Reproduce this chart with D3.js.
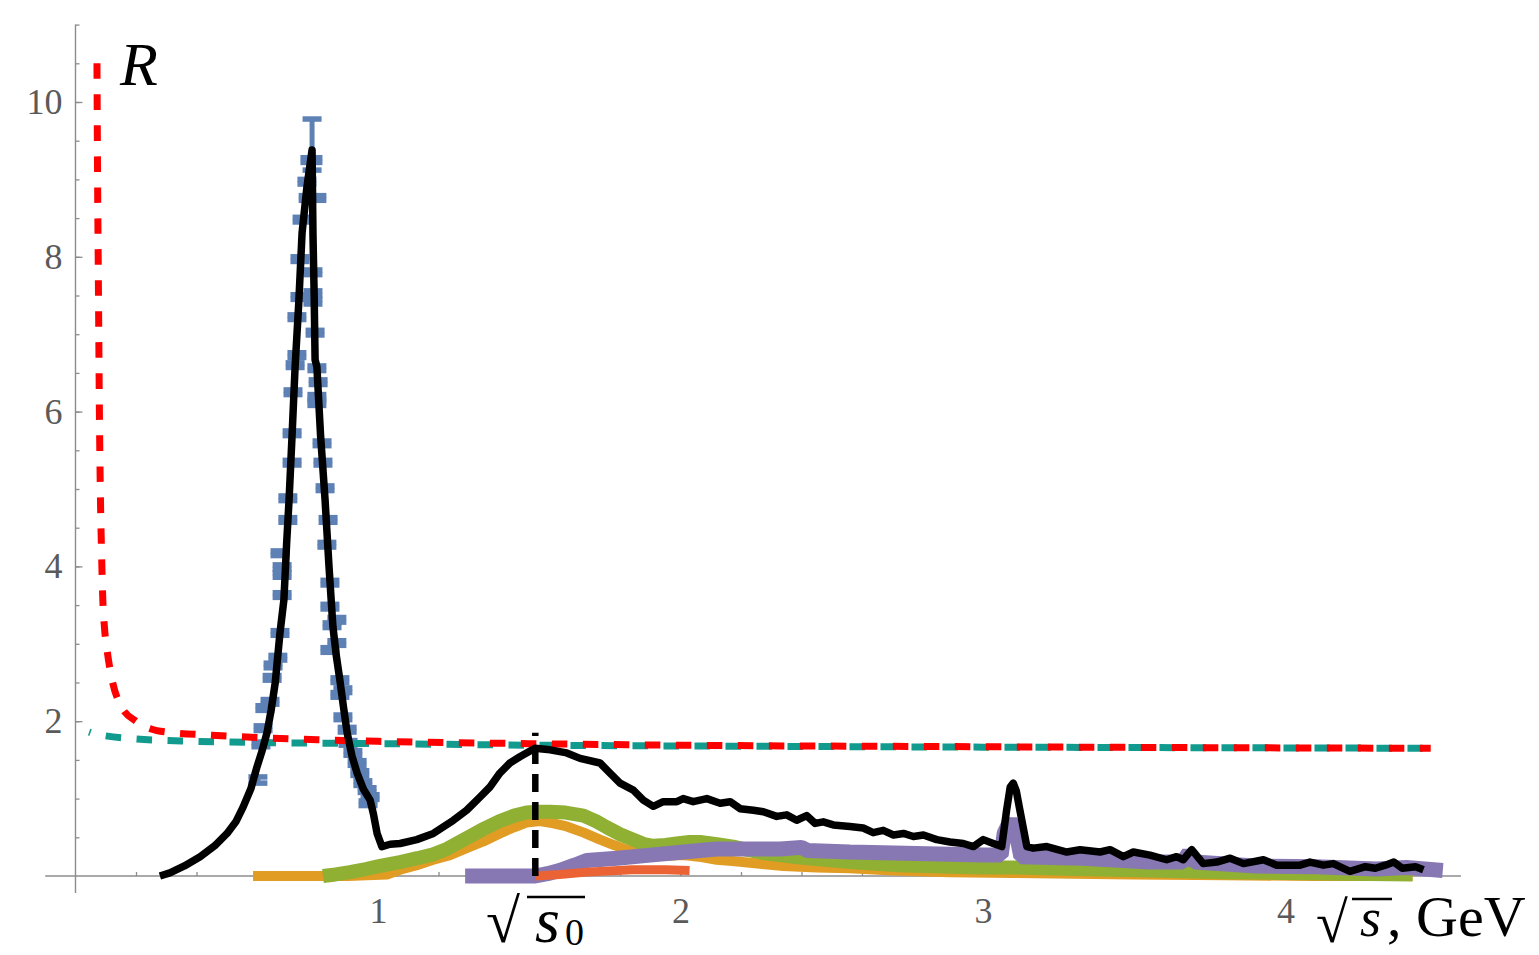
<!DOCTYPE html>
<html>
<head>
<meta charset="utf-8">
<script src="https://cdn.jsdelivr.net/npm/d3@7"></script>
<style>
  body { margin: 0; background: #fff; }
  svg { display: block; }
  .serif { font-family: "Liberation Serif", "DejaVu Serif", serif; }
</style>
</head>
<body>
<svg id="chart" width="1539" height="955"></svg>
<script>
// R ratio vs sqrt(s): data
const xMajor = [1, 2, 3, 4];
const yMajor = [2, 4, 6, 8, 10];
const s0 = 1.52;

// dashed model curves
const redCurve = [[0.071, 10.5], [0.073, 9], [0.075, 8], [0.077, 7], [0.079, 6], [0.082, 5], [0.086, 4.2], [0.09, 3.6], [0.096, 3.2], [0.105, 2.9], [0.12, 2.55], [0.15, 2.2], [0.2, 2.0], [0.25, 1.9], [0.3, 1.86], [0.45, 1.82], [0.6, 1.79], [0.8, 1.76], [1.0, 1.74], [1.5, 1.71], [2.0, 1.69], [3.0, 1.67], [4.0, 1.655], [4.48, 1.65]];
const tealCurve = [[0.045, 1.86], [0.07, 1.83], [0.1, 1.81], [0.2, 1.77], [0.4, 1.74], [0.7, 1.72], [1.0, 1.71], [1.5, 1.69], [2.0, 1.68], [3.0, 1.665], [4.0, 1.655], [4.48, 1.65]];

// total (black)
const blackCurve = [[0.279, 0], [0.312, 0.04], [0.36, 0.13], [0.412, 0.25], [0.46, 0.39], [0.501, 0.55], [0.53, 0.7], [0.554, 0.89], [0.58, 1.13], [0.6, 1.41], [0.617, 1.62], [0.633, 1.85], [0.647, 2.15], [0.66, 2.49], [0.676, 3.14], [0.689, 3.57], [0.698, 4.3], [0.706, 4.86], [0.716, 5.7], [0.726, 6.58], [0.738, 7.4], [0.749, 8.31], [0.765, 8.9], [0.782, 9.38], [0.785, 8.3], [0.789, 7.5], [0.792, 6.67], [0.798, 6.58], [0.81, 5.7], [0.825, 4.86], [0.838, 4.0], [0.851, 3.22], [0.862, 2.85], [0.874, 2.53], [0.886, 2.18], [0.898, 1.85], [0.914, 1.55], [0.931, 1.33], [0.952, 1.12], [0.974, 0.98], [0.985, 0.8], [0.997, 0.55], [1.013, 0.38], [1.04, 0.41], [1.073, 0.42], [1.128, 0.47], [1.183, 0.55], [1.249, 0.72], [1.293, 0.85], [1.337, 1.02], [1.37, 1.15], [1.403, 1.33], [1.436, 1.46], [1.469, 1.54], [1.519, 1.65], [1.569, 1.63], [1.624, 1.59], [1.668, 1.52], [1.734, 1.46], [1.767, 1.33], [1.8, 1.2], [1.844, 1.11], [1.877, 0.98], [1.91, 0.9], [1.943, 0.96], [1.988, 0.96], [2.009, 1.0], [2.042, 0.96], [2.087, 1.0], [2.131, 0.94], [2.164, 0.96], [2.197, 0.87], [2.241, 0.85], [2.274, 0.83], [2.318, 0.77], [2.351, 0.79], [2.384, 0.72], [2.417, 0.78], [2.445, 0.68], [2.472, 0.7], [2.505, 0.66], [2.56, 0.64], [2.604, 0.62], [2.637, 0.56], [2.67, 0.59], [2.704, 0.53], [2.737, 0.55], [2.77, 0.51], [2.803, 0.53], [2.847, 0.47], [2.891, 0.44], [2.935, 0.42], [2.968, 0.38], [3.001, 0.47], [3.034, 0.42], [3.062, 0.38], [3.078, 0.85], [3.09, 1.15], [3.1, 1.2], [3.11, 1.1], [3.122, 0.85], [3.145, 0.38], [3.166, 0.36], [3.211, 0.38], [3.277, 0.31], [3.321, 0.34], [3.387, 0.31], [3.42, 0.34], [3.464, 0.25], [3.497, 0.31], [3.552, 0.27], [3.607, 0.21], [3.64, 0.25], [3.662, 0.21], [3.69, 0.34], [3.728, 0.16], [3.773, 0.18], [3.817, 0.23], [3.861, 0.16], [3.927, 0.21], [3.971, 0.14], [4.048, 0.14], [4.081, 0.18], [4.125, 0.14], [4.158, 0.16], [4.213, 0.06], [4.264, 0.12], [4.297, 0.1], [4.33, 0.14], [4.358, 0.18], [4.386, 0.1], [4.43, 0.12], [4.456, 0.08]];

// exclusive channels (thick bands)
const orangeBand = [[0.587, 0], [0.75, 0], [0.9, 0], [1.03, 0.02], [1.073, 0.08], [1.128, 0.14], [1.183, 0.21], [1.238, 0.27], [1.293, 0.36], [1.35, 0.45], [1.403, 0.55], [1.45, 0.63], [1.491, 0.69], [1.535, 0.71], [1.58, 0.68], [1.624, 0.64], [1.68, 0.56], [1.734, 0.47], [1.78, 0.4], [1.823, 0.34], [1.87, 0.29], [1.91, 0.27], [1.96, 0.26], [2.009, 0.27], [2.06, 0.25], [2.12, 0.21], [2.18, 0.19], [2.23, 0.17], [2.34, 0.13], [2.45, 0.11], [2.56, 0.1], [2.7, 0.07], [2.89, 0.05], [3.1, 0.04], [3.3, 0.03], [3.5, 0.02], [3.8, 0.01], [4.1, 0.0], [4.42, 0.0]];
const greenBand = [[0.818, 0], [0.86, 0.02], [0.907, 0.05], [0.96, 0.09], [1.007, 0.13], [1.073, 0.18], [1.13, 0.23], [1.183, 0.28], [1.228, 0.35], [1.293, 0.49], [1.35, 0.61], [1.403, 0.71], [1.45, 0.78], [1.491, 0.82], [1.53, 0.83], [1.569, 0.83], [1.62, 0.82], [1.679, 0.78], [1.72, 0.71], [1.756, 0.63], [1.8, 0.54], [1.844, 0.47], [1.88, 0.41], [1.91, 0.39], [1.95, 0.4], [1.988, 0.42], [2.03, 0.44], [2.064, 0.44], [2.12, 0.41], [2.174, 0.38], [2.23, 0.33], [2.285, 0.29], [2.395, 0.24], [2.56, 0.18], [2.72, 0.14], [2.89, 0.12], [3.0, 0.11], [3.11, 0.11], [3.3, 0.09], [3.55, 0.07], [3.8, 0.05], [4.0, 0.04], [4.2, 0.03], [4.42, 0.02]];
const purpleBand = [[1.288, 0], [1.4, 0], [1.52, 0.0], [1.56, 0.03], [1.6, 0.07], [1.65, 0.14], [1.69, 0.2], [1.79, 0.23], [1.9, 0.27], [2.01, 0.31], [2.12, 0.35], [2.23, 0.35], [2.33, 0.35], [2.4, 0.37], [2.42, 0.33], [2.56, 0.31], [2.78, 0.29], [3.0, 0.27], [3.06, 0.27], [3.07, 0.55], [3.09, 0.72], [3.11, 0.55], [3.125, 0.25], [3.33, 0.23], [3.55, 0.18], [3.66, 0.18], [3.68, 0.3], [3.7, 0.18], [3.9, 0.13], [4.1, 0.12], [4.3, 0.09], [4.4, 0.11], [4.52, 0.07]];
const redBand = [[1.52, 0], [1.6, 0.02], [1.69, 0.05], [1.84, 0.08], [1.95, 0.08], [2.03, 0.07]];

// pi+pi- data with errors [x, y, err]
const pipiData = [[0.603, 1.24, 0.04], [0.613, 1.7, 0.03], [0.62, 1.91, 0.03], [0.626, 2.17, 0.03], [0.643, 2.25, 0.03], [0.65, 2.56, 0.03], [0.653, 2.72, 0.03], [0.669, 2.82, 0.03], [0.676, 3.14, 0.03], [0.683, 3.63, 0.03], [0.683, 3.89, 0.03], [0.683, 3.99, 0.03], [0.676, 4.17, 0.03], [0.702, 4.6, 0.03], [0.702, 4.88, 0.03], [0.716, 5.34, 0.03], [0.716, 5.72, 0.03], [0.719, 6.25, 0.03], [0.726, 6.6, 0.03], [0.732, 6.73, 0.03], [0.732, 7.22, 0.03], [0.742, 7.48, 0.03], [0.742, 7.97, 0.03], [0.749, 8.48, 0.03], [0.769, 8.76, 0.03], [0.765, 8.97, 0.03], [0.775, 9.25, 0.03], [0.782, 9.45, 0.33], [0.785, 9.25, 0.03], [0.798, 8.76, 0.03], [0.785, 7.8, 0.03], [0.785, 7.53, 0.03], [0.785, 7.42, 0.03], [0.792, 7.02, 0.03], [0.798, 6.56, 0.03], [0.802, 6.38, 0.03], [0.798, 6.19, 0.03], [0.798, 6.11, 0.03], [0.815, 5.59, 0.03], [0.818, 5.34, 0.03], [0.825, 5.01, 0.03], [0.835, 4.6, 0.03], [0.831, 4.28, 0.03], [0.841, 3.79, 0.03], [0.841, 3.48, 0.03], [0.864, 3.31, 0.03], [0.848, 3.24, 0.03], [0.864, 3.01, 0.03], [0.841, 2.92, 0.03], [0.874, 2.53, 0.03], [0.884, 2.4, 0.03], [0.874, 2.34, 0.03], [0.884, 2.05, 0.03], [0.898, 1.89, 0.03], [0.901, 1.72, 0.03], [0.917, 1.59, 0.03], [0.931, 1.46, 0.03], [0.94, 1.33, 0.03], [0.95, 1.2, 0.03], [0.964, 1.11, 0.03], [0.974, 1.02, 0.03], [0.967, 0.94, 0.03]];

const svg = d3.select('#chart');
svg.append('rect').attr('width', 1539).attr('height', 955).attr('fill', '#fff');

const x = d3.scaleLinear().domain([0, 4]).range([75.5, 1285.5]);
const y = d3.scaleLinear().domain([0, 10]).range([876, 102]);

const axisColor = '#8c8c8c';

// axes lines
svg.append('line')
  .attr('x1', x(-0.1)).attr('x2', x(4.58))
  .attr('y1', y(0)).attr('y2', y(0))
  .attr('stroke', axisColor).attr('stroke-width', 1.4);
svg.append('line')
  .attr('x1', x(0)).attr('x2', x(0))
  .attr('y1', y(-0.22)).attr('y2', y(11))
  .attr('stroke', axisColor).attr('stroke-width', 1.4);

const styleAxis = g => {
  g.attr('font-family', null).attr('font-size', null).attr('class', 'serif');
  g.select('.domain').remove();
  g.selectAll('line').attr('stroke', axisColor).attr('stroke-width', 1.3);
  g.selectAll('text').attr('fill', '#5a5a5a').attr('font-size', 36);
};

// minor ticks
svg.append('g')
  .attr('transform', `translate(0,${y(0)})`)
  .call(d3.axisBottom(x).tickValues(d3.range(0.2, 4.5, 0.2)).tickSize(-4).tickFormat(''))
  .call(styleAxis);
svg.append('g')
  .attr('transform', `translate(${x(0)},0)`)
  .call(d3.axisLeft(y).tickValues(d3.range(0.5, 11.01, 0.5)).tickSize(-4).tickFormat(''))
  .call(styleAxis);

// major ticks + labels
svg.append('g')
  .attr('transform', `translate(0,${y(0)})`)
  .call(d3.axisBottom(x).tickValues(xMajor).tickSize(-7).tickPadding(21).tickFormat(d3.format('d')))
  .call(styleAxis);
svg.append('g')
  .attr('transform', `translate(${x(0)},0)`)
  .call(d3.axisLeft(y).tickValues(yMajor).tickSize(-7).tickPadding(13).tickFormat(d3.format('d')))
  .call(styleAxis);

const line = d3.line().x(d => x(d[0])).y(d => y(d[1]));
const smooth = d3.line().curve(d3.curveMonotoneX).x(d => x(d[0])).y(d => y(d[1]));

// bands
const bands = [
  { data: orangeBand, color: '#E19C24', width: 10 },
  { data: greenBand, color: '#8FB032', width: 14 },
  { data: purpleBand, color: '#8778B3', width: 15 },
  { data: redBand, color: '#EB6235', width: 9 }
];
svg.append('g')
  .selectAll('path')
  .data(bands)
  .join('path')
  .attr('fill', 'none')
  .attr('stroke', d => d.color)
  .attr('stroke-width', d => d.width)
  .attr('stroke-linejoin', 'bevel')
  .attr('d', d => line(d.data));

// pi pi data points with error bars
const pts = svg.append('g').attr('fill', 'none').attr('stroke', '#5E81B5');
pts.selectAll('line.err')
  .data(pipiData)
  .join('line')
  .attr('class', 'err')
  .attr('stroke-width', 5)
  .attr('x1', d => x(d[0])).attr('x2', d => x(d[0]))
  .attr('y1', d => y(d[1] - d[2])).attr('y2', d => y(d[1] + d[2]));
pts.selectAll('line.capLo')
  .data(pipiData)
  .join('line')
  .attr('class', 'capLo')
  .attr('stroke-width', 5.5)
  .attr('x1', d => x(d[0]) - 9.5).attr('x2', d => x(d[0]) + 9.5)
  .attr('y1', d => y(d[1] - d[2])).attr('y2', d => y(d[1] - d[2]));
pts.selectAll('line.capHi')
  .data(pipiData)
  .join('line')
  .attr('class', 'capHi')
  .attr('stroke-width', 5.5)
  .attr('x1', d => x(d[0]) - 9.5).attr('x2', d => x(d[0]) + 9.5)
  .attr('y1', d => y(d[1] + d[2])).attr('y2', d => y(d[1] + d[2]));

// dashed model curves, phases aligned so the dashes alternate
const dash = 15.5, gap = 15.5, period = dash + gap;
const measure = pts => {
  const p = svg.append('path').attr('d', smooth(pts));
  const len = p.node().getTotalLength();
  p.remove();
  return len;
};
const redLen = measure(redCurve.filter(d => d[0] <= 1.0));
const tealLen = measure(tealCurve.filter(d => d[0] <= 1.0));
const tealOffset = (((redLen + period / 2 - tealLen) % period) + period) % period;

svg.append('path')
  .attr('fill', 'none')
  .attr('stroke', '#119A8E')
  .attr('stroke-width', 7)
  .attr('stroke-dasharray', `${dash},${gap}`)
  .attr('stroke-dashoffset', -tealOffset)
  .attr('d', smooth(tealCurve));
svg.append('path')
  .attr('fill', 'none')
  .attr('stroke', '#FF0000')
  .attr('stroke-width', 7)
  .attr('stroke-dasharray', `${dash},${gap}`)
  .attr('d', smooth(redCurve));

// sqrt(s0) marker
svg.append('line')
  .attr('x1', x(s0)).attr('x2', x(s0))
  .attr('y1', y(0)).attr('y2', y(1.85))
  .attr('stroke', '#000').attr('stroke-width', 6.5)
  .attr('stroke-dasharray', '18,10');

// total R
svg.append('path')
  .attr('fill', 'none')
  .attr('stroke', '#000')
  .attr('stroke-width', 7.5)
  .attr('stroke-linejoin', 'round')
  .attr('d', line(blackCurve));

// labels
svg.append('text')
  .attr('class', 'serif')
  .attr('x', 120).attr('y', 85)
  .attr('font-style', 'italic').attr('font-size', 62)
  .text('R');

const s0Label = svg.append('g').attr('class', 'serif');
s0Label.append('text').attr('x', 486).attr('y', 942).attr('font-size', 62).text('√');
s0Label.append('line').attr('x1', 527).attr('x2', 585).attr('y1', 897).attr('y2', 897)
  .attr('stroke', '#000').attr('stroke-width', 2.5);
s0Label.append('text').attr('x', 535).attr('y', 942).attr('font-size', 64).attr('font-style', 'italic').text('s');
s0Label.append('text').attr('x', 565).attr('y', 945).attr('font-size', 38).text('0');

const sLabel = svg.append('g').attr('class', 'serif');
sLabel.append('text').attr('x', 1316).attr('y', 942).attr('font-size', 58).text('√');
sLabel.append('line').attr('x1', 1352).attr('x2', 1392).attr('y1', 899).attr('y2', 899)
  .attr('stroke', '#000').attr('stroke-width', 2.5);
sLabel.append('text').attr('x', 1360).attr('y', 936).attr('font-size', 54).attr('font-style', 'italic').text('s');
sLabel.append('text').attr('x', 1387).attr('y', 936).attr('font-size', 58).text(', GeV');
</script>
</body>
</html>
